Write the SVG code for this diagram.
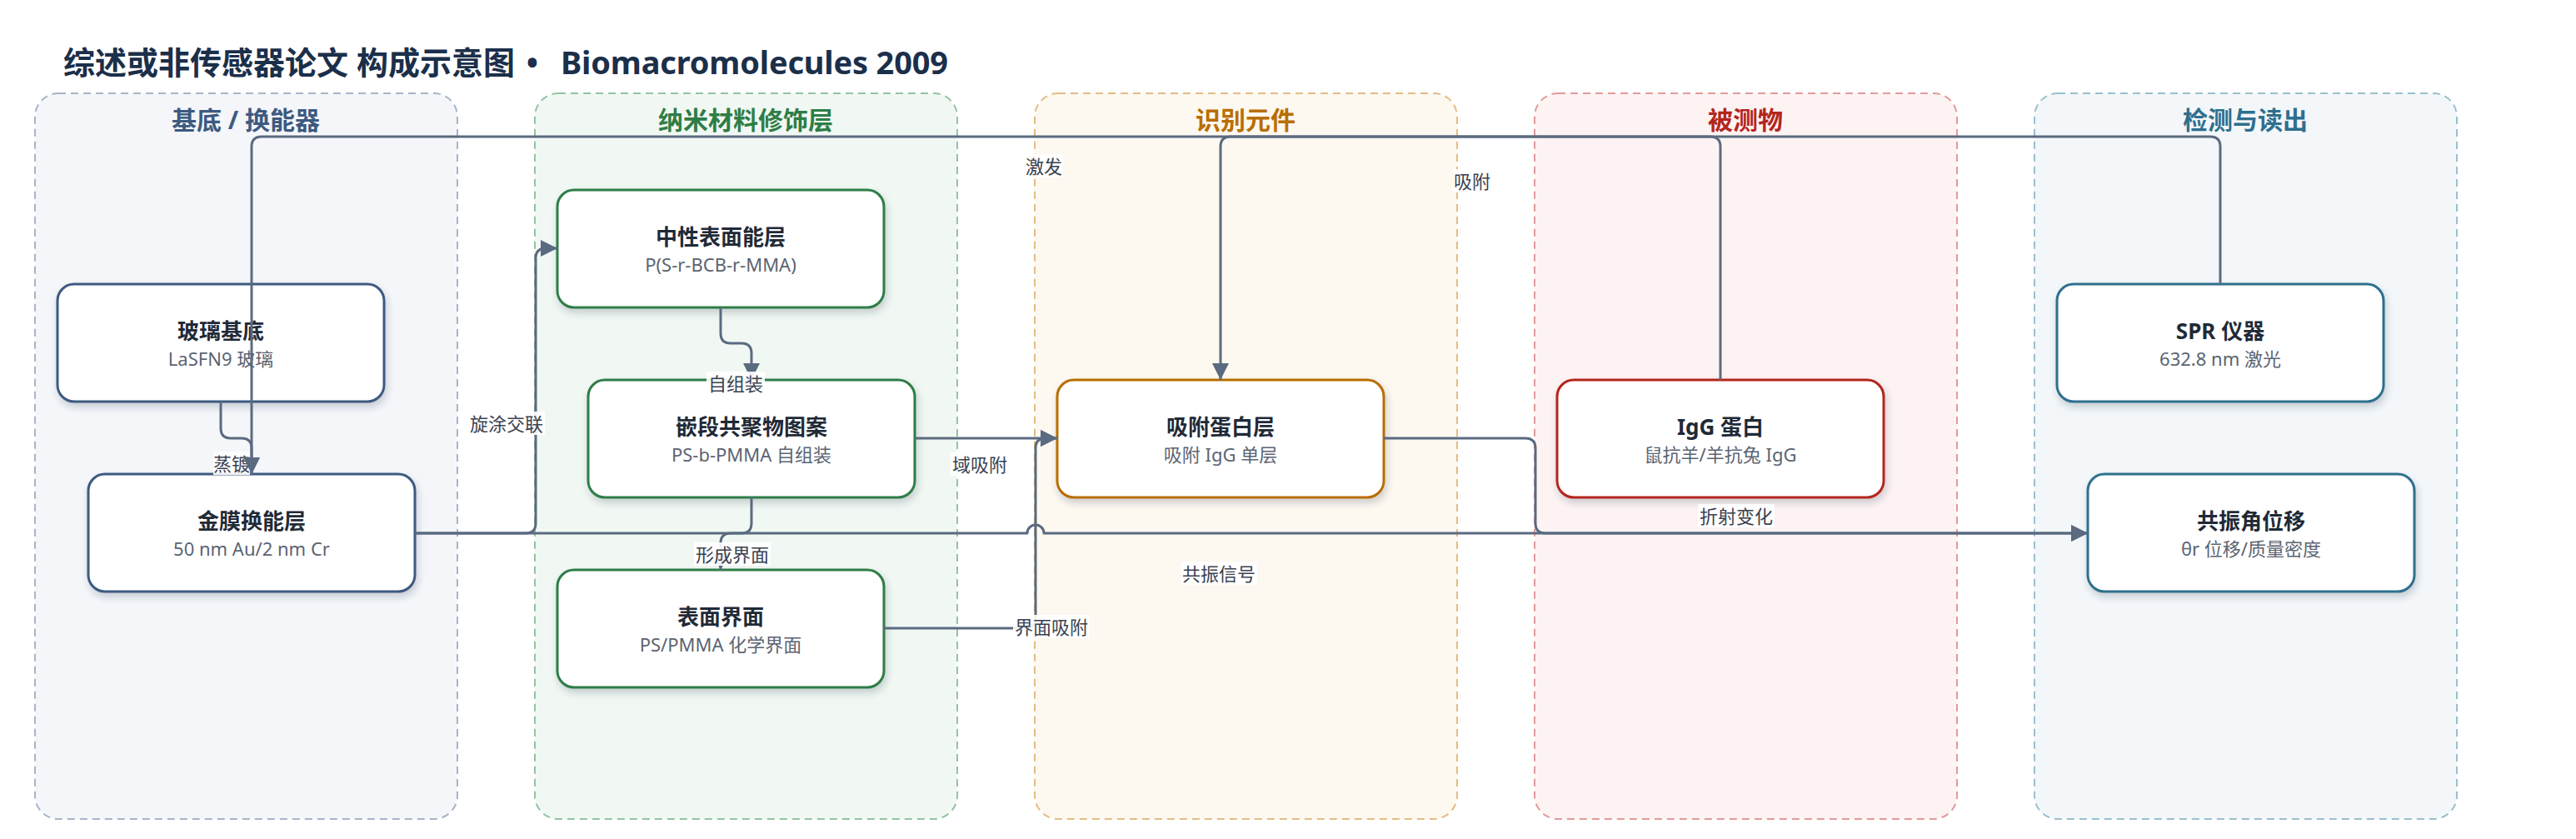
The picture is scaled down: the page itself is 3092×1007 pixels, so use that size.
<svg xmlns="http://www.w3.org/2000/svg" width="3092" height="1007" viewBox="0 0 3092 1007">
<style>
.title{font-family:"Noto Sans","Noto Sans CJK SC",sans-serif;font-size:38px;font-weight:700;fill:#1b2f4a}
.lane{stroke-width:2;stroke-dasharray:9 6}
.lh{font-family:"Noto Sans","Noto Sans CJK SC",sans-serif;font-size:30px;font-weight:700;text-anchor:middle}
.node{fill:#ffffff;stroke-width:3;filter:url(#sh)}
.nt{font-family:"Noto Sans","Noto Sans CJK SC",sans-serif;font-size:26px;font-weight:700;fill:#1f2a37;text-anchor:middle}
.ns{font-family:"Noto Sans","Noto Sans CJK SC",sans-serif;font-size:22px;fill:#5b6472;text-anchor:middle}
.e{fill:none;stroke:#5a6a80;stroke-width:3;stroke-linejoin:round}
.lb{fill:#ffffff;fill-opacity:0.9}
.lt{font-family:"Noto Sans","Noto Sans CJK SC",sans-serif;font-size:22px;fill:#3a4150;text-anchor:middle;dominant-baseline:central}
</style>
<defs>
<filter id="sh" x="-10%" y="-10%" width="120%" height="135%">
<feDropShadow dx="2" dy="5" stdDeviation="4.5" flood-color="#1b2f4a" flood-opacity="0.22"/>
</filter>
<marker id="ar" markerUnits="userSpaceOnUse" markerWidth="20" markerHeight="20" refX="20" refY="10" orient="auto">
<path d="M0,0 L20,10 L0,20 z" fill="#5a6a80"/>
</marker>
</defs>
<rect width="3092" height="1007" fill="#ffffff"/>
<g id="title">
<text class="title" x="76" y="89">综述或非传感器论文 构成示意图</text>
<text class="title" x="639" y="89" text-anchor="middle">•</text>
<text class="title" x="673" y="89" textLength="465" lengthAdjust="spacing">Biomacromolecules 2009</text>
</g>

<g id="lanes">
<g id="lane-substrate"><rect class="lane" x="42" y="112" width="507" height="871" rx="28" fill="#f4f6fa" stroke="#a8b4c8"/><text class="lh" x="295" y="155" fill="#3d5a80">基底 / 换能器</text></g>
<g id="lane-nano"><rect class="lane" x="642" y="112" width="507" height="871" rx="28" fill="#f1f8f3" stroke="#93c3a2"/><text class="lh" x="895" y="155" fill="#2e7d46">纳米材料修饰层</text></g>
<g id="lane-recog"><rect class="lane" x="1242" y="112" width="507" height="871" rx="28" fill="#fdf8f0" stroke="#e3bd84"/><text class="lh" x="1495" y="155" fill="#b86e00">识别元件</text></g>
<g id="lane-analyte"><rect class="lane" x="1842" y="112" width="507" height="871" rx="28" fill="#fdf3f3" stroke="#e39a9a"/><text class="lh" x="2095" y="155" fill="#b3261e">被测物</text></g>
<g id="lane-readout"><rect class="lane" x="2442" y="112" width="507" height="871" rx="28" fill="#f3f7f9" stroke="#9bbfcd"/><text class="lh" x="2695" y="155" fill="#2e6f8e">检测与读出</text></g>
</g>

<g id="n-glass"><rect class="node" x="69" y="341" width="392" height="141" rx="20" stroke="#3d5a80"/><text class="nt" x="265" y="407">玻璃基底</text><text class="ns" x="265" y="439">LaSFN9 玻璃</text></g>
<g id="n-gold"><rect class="node" x="106" y="569" width="392" height="141" rx="20" stroke="#3d5a80"/><text class="nt" x="302" y="635">金膜换能层</text><text class="ns" x="302" y="667">50 nm Au/2 nm Cr</text></g>
<g id="n-neutral"><rect class="node" x="669" y="228" width="392" height="141" rx="20" stroke="#2e7d46"/><text class="nt" x="865" y="294">中性表面能层</text><text class="ns" x="865" y="326">P(S-r-BCB-r-MMA)</text></g>
<g id="n-bcp"><rect class="node" x="706" y="456" width="392" height="141" rx="20" stroke="#2e7d46"/><text class="nt" x="902" y="522">嵌段共聚物图案</text><text class="ns" x="902" y="554">PS-b-PMMA 自组装</text></g>
<g id="n-interface"><rect class="node" x="669" y="684" width="392" height="141" rx="20" stroke="#2e7d46"/><text class="nt" x="865" y="750">表面界面</text><text class="ns" x="865" y="782">PS/PMMA 化学界面</text></g>
<g id="n-protein"><rect class="node" x="1269" y="456" width="392" height="141" rx="20" stroke="#b86e00"/><text class="nt" x="1465" y="522">吸附蛋白层</text><text class="ns" x="1465" y="554">吸附 IgG 单层</text></g>
<g id="n-igg"><rect class="node" x="1869" y="456" width="392" height="141" rx="20" stroke="#b3261e"/><text class="nt" x="2065" y="522">IgG 蛋白</text><text class="ns" x="2065" y="554">鼠抗羊/羊抗兔 IgG</text></g>
<g id="n-spr"><rect class="node" x="2469" y="341" width="392" height="141" rx="20" stroke="#2e6f8e"/><text class="nt" x="2665" y="407">SPR 仪器</text><text class="ns" x="2665" y="439">632.8 nm 激光</text></g>
<g id="n-shift"><rect class="node" x="2506" y="569" width="392" height="141" rx="20" stroke="#2e6f8e"/><text class="nt" x="2702" y="635">共振角位移</text><text class="ns" x="2702" y="667">θr 位移/质量密度</text></g>

<g id="connectors">
<path class="e" marker-end="url(#ar)" d="M265,482 L265,514 Q265,526 277,526 L290,526 Q302,526 302,538 L302,569"/>
<rect class="lb" x="256" y="542" width="44" height="28"/><text class="lt" x="278" y="556">蒸镀</text>

<path class="e" marker-end="url(#ar)" d="M498,640 L631,640 Q643,640 643,628 L643,310 Q643,298 655,298 L669,298"/>
<rect class="lb" x="562" y="494" width="92" height="28"/><text class="lt" x="608" y="508">旋涂交联</text>

<path class="e" marker-end="url(#ar)" d="M865,369 L865,400 Q865,412 877,412 L890,412 Q902,412 902,424 L902,456"/>
<rect class="lb" x="848" y="446" width="70" height="28"/><text class="lt" x="883" y="460">自组装</text>

<path class="e" marker-end="url(#ar)" d="M902,597 L902,628 Q902,640 890,640 L877,640 Q865,640 865,652 L865,684"/>
<rect class="lb" x="833" y="651" width="92" height="28"/><text class="lt" x="879" y="665">形成界面</text>

<path class="e" marker-end="url(#ar)" d="M1098,526 L1269,526"/>
<rect class="lb" x="1141" y="543" width="70" height="28"/><text class="lt" x="1176" y="557">域吸附</text>

<path class="e" marker-end="url(#ar)" d="M1061,754 L1231,754 Q1243,754 1243,742 L1243,538 Q1243,526 1255,526 L1269,526"/>
<rect class="lb" x="1216" y="738" width="92" height="28"/><text class="lt" x="1262" y="752">界面吸附</text>

<path class="e" marker-end="url(#ar)" d="M498,640 L1233,640 A10,10 0 0,1 1253,640 L2506,640"/>
<rect class="lb" x="1417" y="674" width="92" height="28"/><text class="lt" x="1463" y="688">共振信号</text>

<path class="e" marker-end="url(#ar)" d="M1661,526 L1831,526 Q1843,526 1843,538 L1843,628 Q1843,640 1855,640 L2506,640"/>
<rect class="lb" x="2038" y="605" width="92" height="28"/><text class="lt" x="2084" y="619">折射变化</text>

<path class="e" marker-end="url(#ar)" d="M2065,456 L2065,176 Q2065,164 2053,164 L1477,164 Q1465,164 1465,176 L1465,456"/>
<rect class="lb" x="1744" y="203" width="46" height="28"/><text class="lt" x="1767" y="217">吸附</text>

<path class="e" marker-end="url(#ar)" d="M2665,341 L2665,176 Q2665,164 2653,164 L314,164 Q302,164 302,176 L302,569"/>
<rect class="lb" x="1230" y="185" width="46" height="28"/><text class="lt" x="1253" y="199">激发</text>
</g>
</svg>
